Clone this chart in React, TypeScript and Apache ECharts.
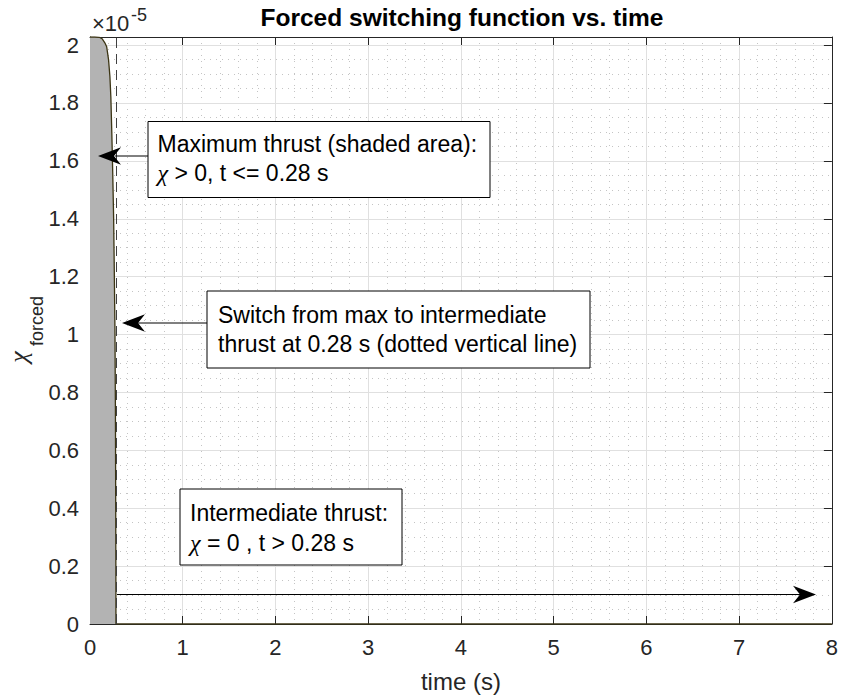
import React, { useEffect, useRef } from "react";
import * as echarts from "echarts";

// ---- data (chi values are in units of 1e-5) ----
const timeS = [0, 0.05, 0.1, 0.13, 0.16, 0.18, 0.2, 0.215, 0.225, 0.235, 0.245, 0.255, 0.262, 0.269, 0.274, 0.277, 0.279, 0.28, 1, 2, 3, 4, 5, 6, 7, 8];
const chiForcedE5 = [2.028, 2.028, 2.027, 2.022, 2.008, 1.994, 1.95, 1.89, 1.82, 1.7, 1.56, 1.4, 1.22, 1.02, 0.75, 0.45, 0.2, 0, 0, 0, 0, 0, 0, 0, 0, 0];
const switchTimeS = 0.28;
const xRange = [0, 8];
const yRange = [0, 2.028];
const xMajor = 1;
const xMinor = 0.2;
const yMajor = 0.2;
const yMinor = 0.05;
const titleText = "Forced switching function vs. time";
const xLabel = "time (s)";
const yLabelMain = "χ";
const yLabelSub = "forced";
const expBase = "×10";
const expPower = "-5";
const note1 = ["Maximum thrust (shaded area):", "{g|χ} > 0, t <= 0.28 s"];
const note2 = ["Switch from max to intermediate", "thrust at 0.28 s (dotted vertical line)"];
const note3 = ["Intermediate thrust:", "{g|χ} = 0 , t > 0.28 s"];

const SANS = "'Liberation Sans', Arial, Helvetica, sans-serif";
const SERIF = "'Liberation Serif', 'DejaVu Serif', serif";
const AX = "#262626";

function arrowHead(tx: number, ty: number, dir: number) {
  // dir = -1 points left, +1 points right
  const L = 23, N = 16, W = 8.7;
  return [
    [tx, ty],
    [tx - dir * L, ty - W],
    [tx - dir * N, ty],
    [tx - dir * L, ty + W],
  ];
}

function noteBox(x: number, y: number, w: number, h: number, tx: number, ty: number, lines: string[]) {
  return [
    { type: "rect", z: 100, shape: { x, y, width: w, height: h }, style: { fill: "#fff", stroke: "#000", lineWidth: 1 } },
    {
      type: "text", z: 101, x: tx, y: ty,
      style: {
        text: lines.join("\n"), fontSize: 23, fontFamily: SANS, fill: "#000", lineHeight: 29.5,
        align: "left", verticalAlign: "top", textAlign: "left", textVerticalAlign: "top",
        rich: { g: { fontSize: 24, fontFamily: SERIF, fontStyle: "italic", lineHeight: 29.5, fill: "#000" } },
      },
    },
  ];
}

export default function App() {
  const ref = useRef<HTMLDivElement>(null);
  useEffect(() => {
    const chart = echarts.init(ref.current!, null, { renderer: "svg" });
    const data = timeS.map((t, i) => [t, chiForcedE5[i]]);
    const baseX = { type: "value", min: xRange[0], max: xRange[1], interval: xMajor };
    const baseY = { type: "value", min: yRange[0], max: yRange[1], interval: yMajor };
    const option: any = {
      animation: false,
      backgroundColor: "#fff",
      grid: { left: 90, top: 37, width: 743.5, height: 588, containLabel: false },
      xAxis: [
        {
          ...baseX, position: "bottom", z: 2,
          axisLine: { show: true, onZero: false, lineStyle: { color: AX, width: 1 } },
          axisTick: { show: true, inside: true, length: 8, lineStyle: { color: AX } },
          axisLabel: { fontSize: 22, color: AX, fontFamily: SANS, margin: 12 },
          splitLine: { show: true, lineStyle: { color: "#e0e0e0", width: 1 } },
          name: xLabel, nameLocation: "middle", nameGap: 45,
          nameTextStyle: { fontSize: 24, color: AX, fontFamily: SANS },
        },
        {
          ...baseX, position: "top", z: 2,
          axisLine: { show: true, onZero: false, lineStyle: { color: AX, width: 1 } },
          axisTick: { show: true, inside: true, length: 8, lineStyle: { color: AX } },
          axisLabel: { show: false }, splitLine: { show: false },
        },
        {
          type: "value", min: xRange[0], max: xRange[1], interval: xMinor, position: "bottom", z: 0,
          axisLine: { show: false }, axisTick: { show: false }, axisLabel: { show: false },
          splitLine: { show: true, lineStyle: { color: "#c4c4c4", width: 1, type: [1, 5] } },
        },
      ],
      yAxis: [
        {
          ...baseY, position: "left", z: 2,
          axisLine: { show: true, onZero: false, lineStyle: { color: AX, width: 1 } },
          axisTick: { show: true, inside: true, length: 8, lineStyle: { color: AX } },
          axisLabel: {
            fontSize: 22, color: AX, fontFamily: SANS, margin: 11, showMaxLabel: false,
            formatter: (v: number) => String(Number(v.toFixed(2))),
          },
          splitLine: { show: true, lineStyle: { color: "#e0e0e0", width: 1 } },
        },
        {
          ...baseY, position: "right", z: 2,
          axisLine: { show: true, onZero: false, lineStyle: { color: AX, width: 1 } },
          axisTick: { show: true, inside: true, length: 8, lineStyle: { color: AX } },
          axisLabel: { show: false }, splitLine: { show: false },
        },
        {
          type: "value", min: yRange[0], max: yRange[1], interval: yMinor, position: "left", z: 0,
          axisLine: { show: false }, axisTick: { show: false }, axisLabel: { show: false },
          splitLine: { show: true, lineStyle: { color: "#c4c4c4", width: 1, type: [1, 5] } },
        },
      ],
      series: [
        {
          type: "line", xAxisIndex: 0, yAxisIndex: 0, data,
          showSymbol: false, symbol: "none", silent: true, z: 3,
          lineStyle: { color: "#3c3514", width: 1.3 },
          areaStyle: { color: "#b3b3b3", opacity: 1, origin: "start" },
          markLine: {
            silent: true, symbol: ["none", "none"], label: { show: false },
            lineStyle: { color: "#404040", width: 1, type: [10, 6] },
            data: [{ xAxis: switchTimeS }],
          },
        },
      ],
      graphic: [
        {
          type: "text", z: 100, x: 462, y: 17.5,
          style: {
            text: titleText, fontSize: 24.5, fontWeight: "bold", fontFamily: SANS, fill: "#000",
            align: "center", verticalAlign: "middle", textAlign: "center", textVerticalAlign: "middle",
          },
        },
        {
          type: "text", z: 100, x: 92, y: 23,
          style: { text: expBase, font: `22px ${SANS}`, fontSize: 22, fontFamily: SANS, fill: AX, align: "left", verticalAlign: "middle", textAlign: "left", textVerticalAlign: "middle" },
        },
        {
          type: "text", z: 100, x: 131, y: 14.5,
          style: { text: expPower, font: `18px ${SANS}`, fontSize: 18, fontFamily: SANS, fill: AX, align: "left", verticalAlign: "middle", textAlign: "left", textVerticalAlign: "middle" },
        },
        {
          type: "text", z: 100, x: 18, y: 357, rotation: Math.PI / 2,
          style: { text: yLabelMain, fontSize: 26, fontFamily: SERIF, fontStyle: "italic", fill: AX, align: "center", verticalAlign: "middle", textAlign: "center", textVerticalAlign: "middle" },
        },
        {
          type: "text", z: 100, x: 37, y: 321, rotation: Math.PI / 2,
          style: { text: yLabelSub, fontSize: 18, fontFamily: SANS, fill: AX, align: "center", verticalAlign: "middle", textAlign: "center", textVerticalAlign: "middle" },
        },
        ...noteBox(148, 121.5, 342, 76, 157.5, 129, note1),
        ...noteBox(207, 291, 383, 77, 218, 300, note2),
        ...noteBox(180, 489, 222, 76, 190, 498.5, note3),
        { type: "line", z: 100, shape: { x1: 148, y1: 156, x2: 115, y2: 156 }, style: { stroke: "#000", lineWidth: 1 } },
        { type: "polygon", z: 100, shape: { points: arrowHead(98, 156, -1) }, style: { fill: "#000" } },
        { type: "line", z: 100, shape: { x1: 207, y1: 323, x2: 138, y2: 323 }, style: { stroke: "#000", lineWidth: 1 } },
        { type: "polygon", z: 100, shape: { points: arrowHead(122, 323, -1) }, style: { fill: "#000" } },
        { type: "line", z: 100, shape: { x1: 117, y1: 594.5, x2: 800, y2: 594.5 }, style: { stroke: "#000", lineWidth: 1 } },
        { type: "polygon", z: 100, shape: { points: arrowHead(816, 594.5, 1) }, style: { fill: "#000" } },
      ],
    };
    chart.setOption(option);
    return () => chart.dispose();
  }, []);
  return <div ref={ref} style={{ position: "fixed", left: 0, top: 0, width: 841, height: 698, background: "#fff" }} />;
}
